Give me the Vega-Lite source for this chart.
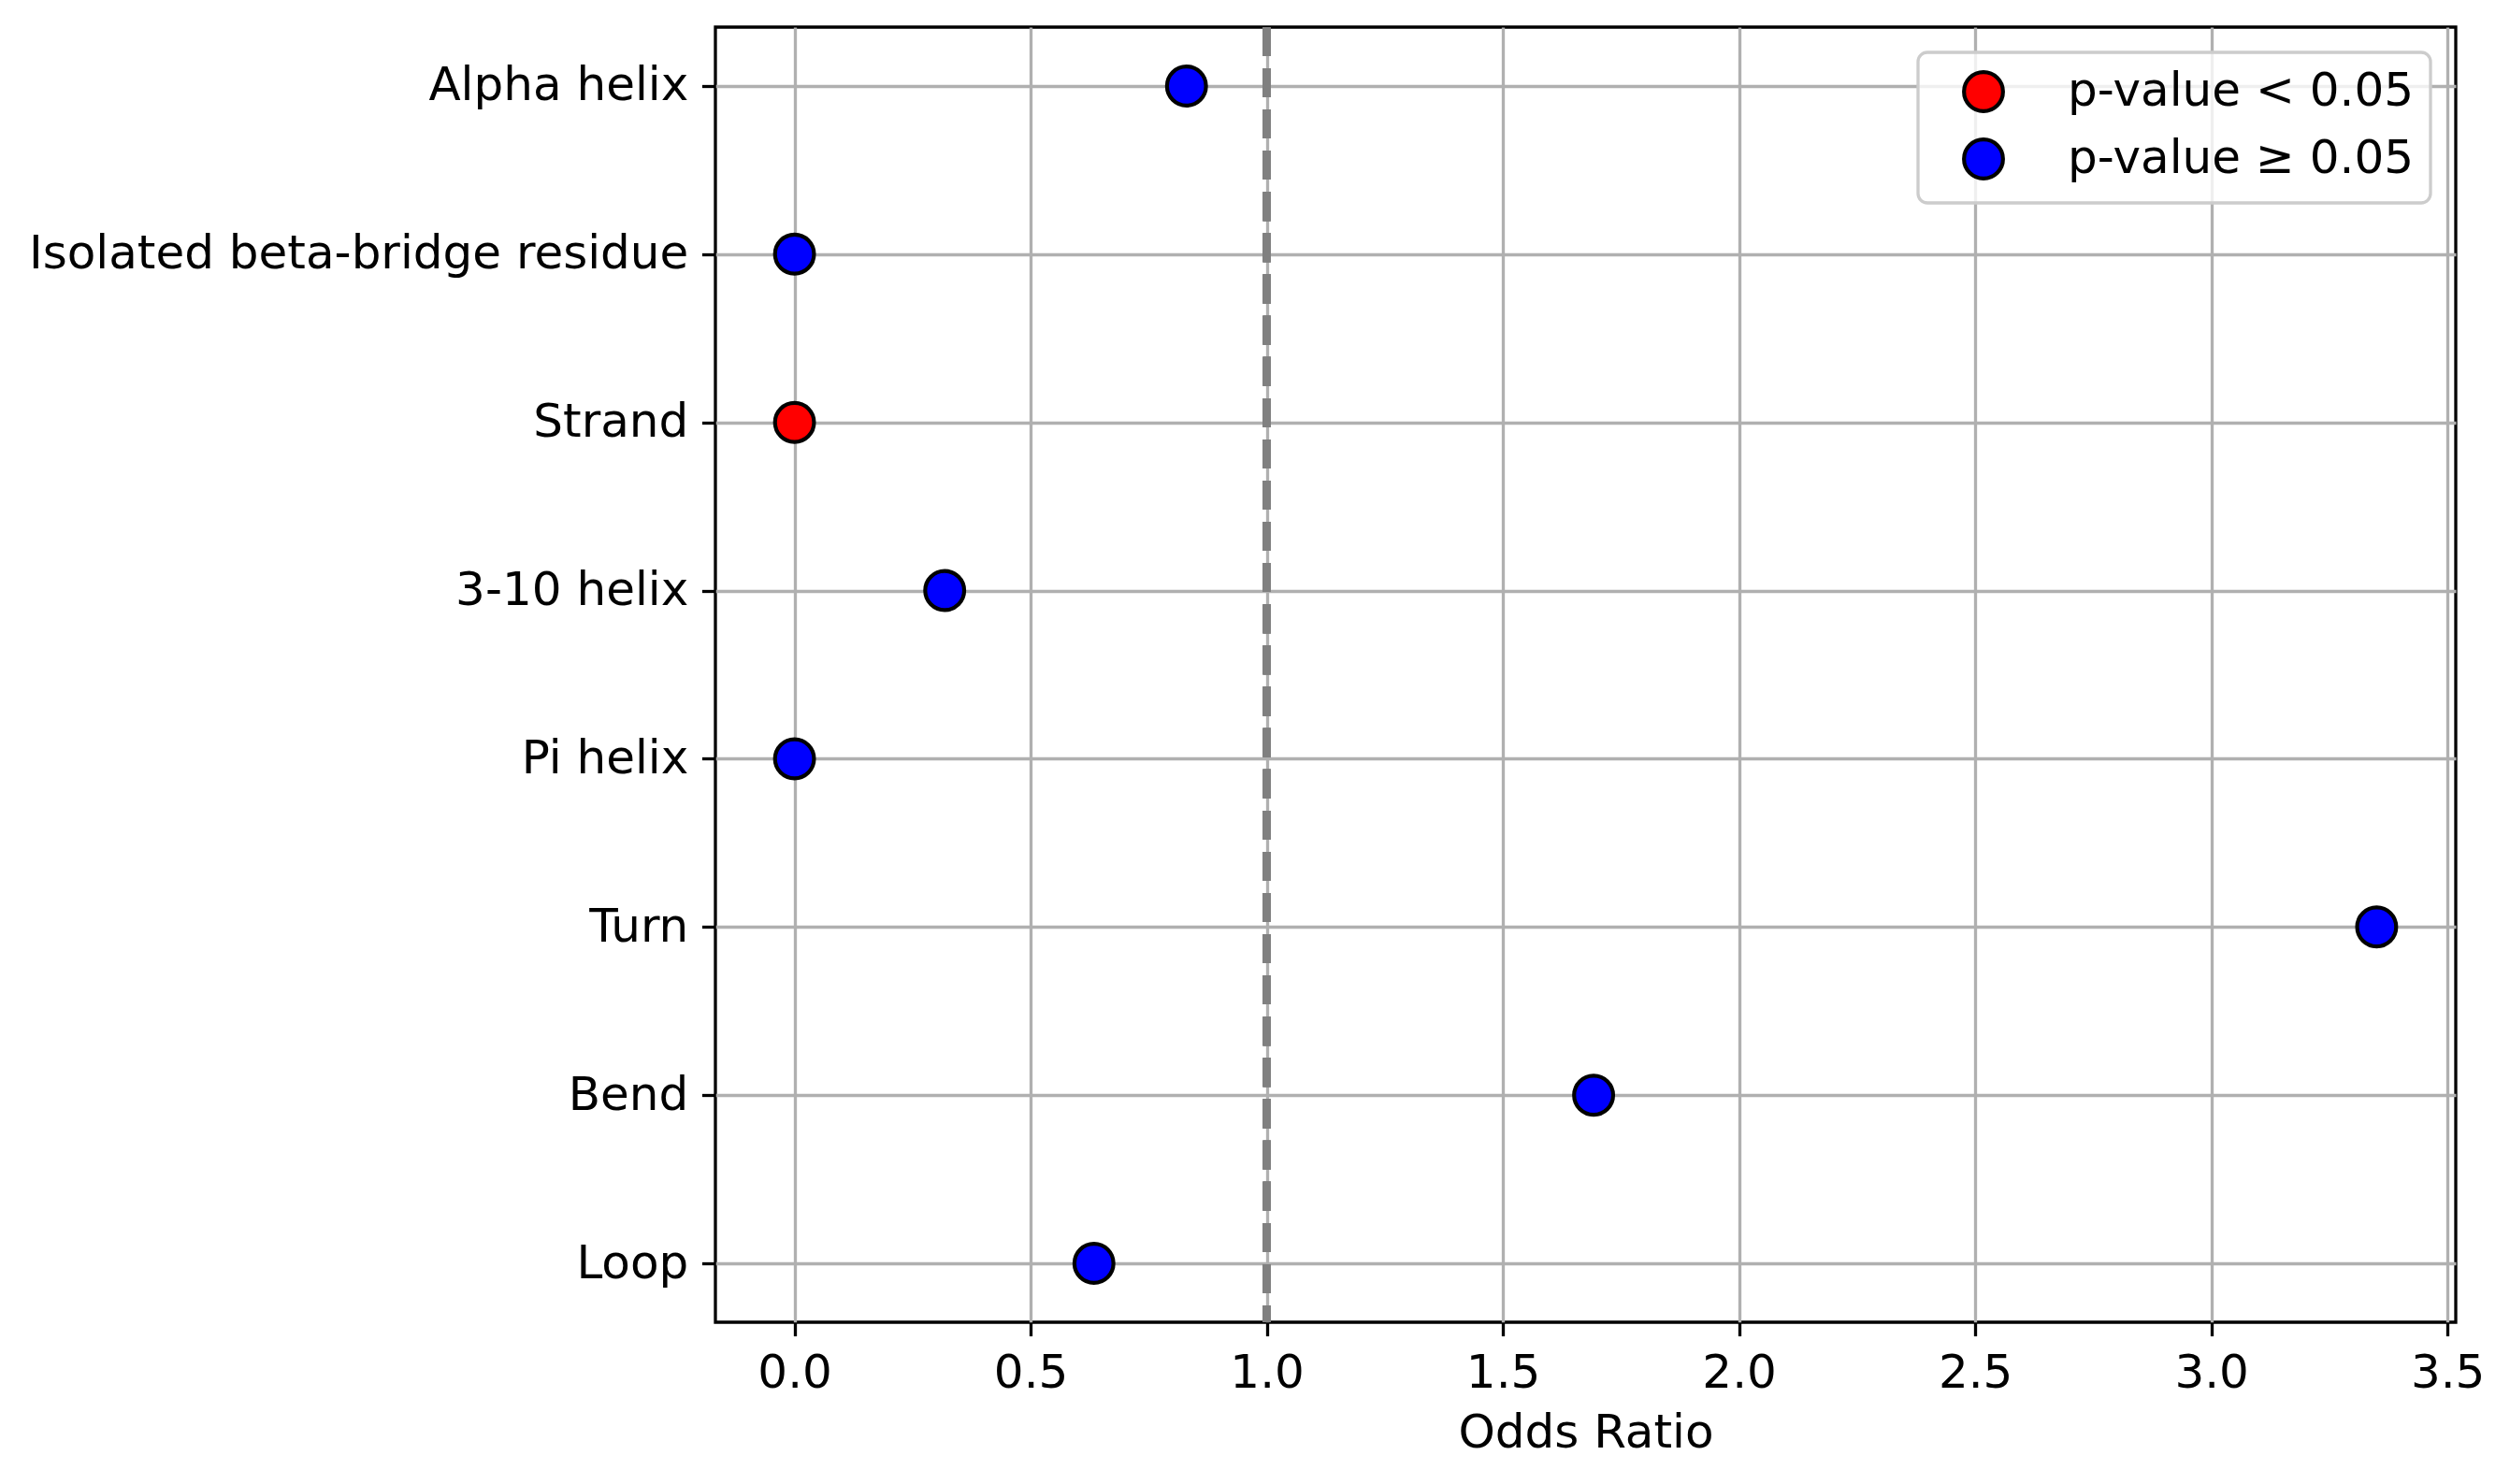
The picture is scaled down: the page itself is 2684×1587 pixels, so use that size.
{
  "$schema": "https://vega.github.io/schema/vega-lite/v6.json",
  "autosize": {"type": "none"},
  "width": 1861,
  "height": 1385,
  "padding": {"left": 765, "top": 29, "right": 58, "bottom": 173},
  "background": "white",
  "config": {
    "font": "DejaVu Sans",
    "view": {"stroke": "black", "strokeWidth": 3.3},
    "axis": {
      "labelFont": "DejaVu Sans",
      "titleFont": "DejaVu Sans",
      "labelFontSize": 50,
      "titleFontSize": 50,
      "labelColor": "black",
      "titleColor": "black",
      "titleFontWeight": "normal",
      "tickColor": "black",
      "tickWidth": 3.3,
      "tickSize": 14.6,
      "labelPadding": 14.6,
      "domain": false,
      "grid": true,
      "gridColor": "#b0b0b0",
      "gridWidth": 3.3
    }
  },
  "datasets": {
    "odds": [
      {"structure": "Alpha helix", "odds_ratio": 0.83, "significance": "p-value ≥ 0.05"},
      {"structure": "Isolated beta-bridge residue", "odds_ratio": 0.0, "significance": "p-value ≥ 0.05"},
      {"structure": "Strand", "odds_ratio": 0.0, "significance": "p-value < 0.05"},
      {"structure": "3-10 helix", "odds_ratio": 0.318, "significance": "p-value ≥ 0.05"},
      {"structure": "Pi helix", "odds_ratio": 0.0, "significance": "p-value ≥ 0.05"},
      {"structure": "Turn", "odds_ratio": 3.35, "significance": "p-value ≥ 0.05"},
      {"structure": "Bend", "odds_ratio": 1.692, "significance": "p-value ≥ 0.05"},
      {"structure": "Loop", "odds_ratio": 0.634, "significance": "p-value ≥ 0.05"}
    ]
  },
  "data": {"name": "odds"},
  "layer": [
    {
      "mark": {"type": "point", "opacity": 0},
      "encoding": {
        "x": {
          "field": "odds_ratio",
          "type": "quantitative",
          "title": "Odds Ratio",
          "scale": {"domain": [-0.1675, 3.5175], "nice": false, "zero": false},
          "axis": {"values": [0, 0.5, 1, 1.5, 2, 2.5, 3, 3.5], "format": ".1f", "titlePadding": 14}
        },
        "y": {
          "field": "structure",
          "type": "nominal",
          "title": null,
          "sort": null,
          "scale": {"type": "point", "padding": 0.35},
          "axis": {"labelLimit": 1000}
        }
      }
    },
    {
      "mark": {"type": "rule", "color": "#808080", "strokeWidth": 8.3, "strokeDash": [30.8, 13.3]},
      "encoding": {"x": {"datum": 1}}
    },
    {
      "mark": {"type": "point", "filled": true, "opacity": 1, "size": 1740, "stroke": "black", "strokeWidth": 4.2},
      "encoding": {
        "x": {"field": "odds_ratio", "type": "quantitative"},
        "y": {"field": "structure", "type": "nominal", "sort": null},
        "color": {
          "field": "significance",
          "type": "nominal",
          "scale": {"domain": ["p-value < 0.05", "p-value ≥ 0.05"], "range": ["#ff0000", "#0000ff"]},
          "legend": {
            "title": null,
            "orient": "none",
            "legendX": 1286,
            "legendY": 27,
            "padding": 17,
            "symbolOffset": 28,
            "labelOffset": 65,
            "rowPadding": 12,
            "labelLimit": 1000,
            "symbolType": "circle",
            "symbolSize": 1740,
            "symbolStrokeColor": "black",
            "symbolStrokeWidth": 4.2,
            "symbolOpacity": 1,
            "labelFontSize": 50,
            "labelFont": "DejaVu Sans",
            "labelColor": "black",
            "fillColor": "rgba(255,255,255,0.8)",
            "strokeColor": "#cccccc",
            "cornerRadius": 10,
            "encode": {"legend": {"update": {"strokeWidth": {"value": 3.3}}}}
          }
        }
      }
    }
  ]
}
